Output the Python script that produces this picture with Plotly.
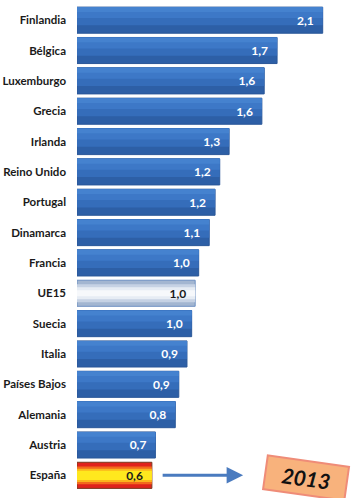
import plotly.graph_objects as go

countries = ["Finlandia", "Bélgica", "Luxemburgo", "Grecia", "Irlanda", "Reino Unido",
             "Portugal", "Dinamarca", "Francia", "UE15", "Suecia", "Italia",
             "Países Bajos", "Alemania", "Austria", "España"]
values = [2.10, 1.71, 1.60, 1.58, 1.30, 1.22, 1.18, 1.13, 1.04, 1.01, 0.98, 0.94,
          0.87, 0.84, 0.67, 0.64]
value_labels = ["2,1", "1,7", "1,6", "1,6", "1,3", "1,2", "1,2", "1,1", "1,0", "1,0",
                "1,0", "0,9", "0,9", "0,8", "0,7", "0,6"]
year_label = "2013"


def pick(name, blue, ue, es):
    if name == "UE15":
        return ue
    if name == "España":
        return es
    return blue


# gradient layers: (colour blue/ue/es, offset blue/ue/es, width blue/ue/es)
layers = [
    (("#2d5fa6", "#a3b6d1", "#e0231c"), (-0.43, -0.43, -0.43), (0.86, 0.86, 0.86)),
    (("#356dba", "#c6d2e4", "#f26a1c"), (-0.43, -0.30, -0.29), (0.60, 0.60, 0.58)),
    (("#3d78c7", "#e6ecf4", "#fbb51c"), (-0.43, -0.20, -0.22), (0.36, 0.40, 0.44)),
    (("#4582cf", "#f6f8fb", "#ffe81e"), (-0.43, -0.10, -0.15), (0.16, 0.20, 0.30)),
]

fig = go.Figure()
for i, (cols, offs, wids) in enumerate(layers):
    fig.add_trace(go.Bar(
        y=countries, x=values, orientation="h",
        width=[pick(c, *wids) for c in countries],
        offset=[pick(c, *offs) for c in countries],
        marker=dict(color=[pick(c, *cols) for c in countries],
                    line=dict(width=1 if i == 0 else 0,
                              color=[pick(c, "#2a5798", "#6d8fc2", "#7a3a20") for c in countries])),
        hoverinfo="skip", showlegend=False,
    ))

# transparent top layer carrying value labels
fig.add_trace(go.Bar(
    y=countries, x=values, orientation="h", width=0.86,
    marker=dict(color="rgba(0,0,0,0)", line=dict(width=0)),
    text=value_labels, texttemplate="%{text}\u2002", textposition="inside",
    insidetextanchor="end", textangle=0,
    textfont=dict(family="Lato", size=12,
                  color=[pick(c, "white", "#1a1a1a", "#1a1a1a") for c in countries],
                  weight="bold"),
    hoverinfo="skip", showlegend=False,
))

fig.add_annotation(
    x=1.42, y="España", xref="x", yref="y",
    ax=-82, ay=0, text="", showarrow=True,
    arrowhead=2, arrowsize=1.1, arrowwidth=3, arrowcolor="#4a7bbf",
)
fig.add_annotation(
    x=1.96, y="España", xref="x", yref="y", yshift=-3,
    text="<b><i>" + year_label + "</i></b>", showarrow=False,
    font=dict(family="Lato", size=21, color="#111111"),
    textangle=8, bgcolor="#f8b27c", bordercolor="#ef8c78", borderwidth=2,
    borderpad=3, width=74, height=26,
)

fig.update_layout(
    width=364, height=498,
    margin=dict(l=77, r=0, t=5, b=2),
    paper_bgcolor="white", plot_bgcolor="white",
    barmode="overlay",
    xaxis=dict(range=[0, 2.453], visible=False, showgrid=False, zeroline=False,
               automargin=False),
    yaxis=dict(autorange="reversed", showgrid=False, zeroline=False, showline=False,
               ticks="", ticklabelstandoff=10, automargin=False,
               tickfont=dict(family="Lato", size=11.5, color="#1a1a1a", weight="bold")),
    font=dict(family="Lato"),
)

fig.write_html(
    "out.html",
    config={"displayModeBar": False, "staticPlot": True},
    post_script="document.body.style.margin='0';document.body.style.overflow='hidden';",
)
